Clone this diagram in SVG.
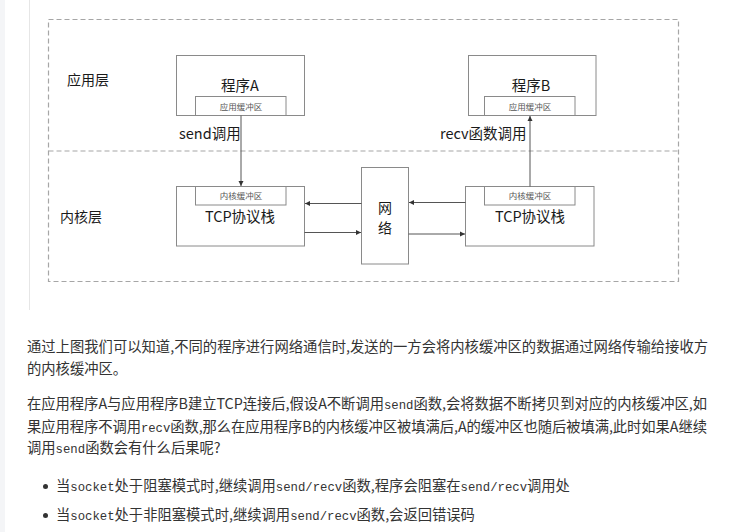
<svg xmlns="http://www.w3.org/2000/svg" width="736" height="532" viewBox="0 0 736 532">
<defs>
<marker id="ah" markerWidth="6" markerHeight="6" refX="5" refY="3" orient="auto" markerUnits="userSpaceOnUse">
<path d="M0,0.5 L5,3 L0,5.5 Z" fill="#333"/>
</marker>
<style>
.box{fill:#fff;stroke:#8a8a8a;stroke-width:1}
.dash{fill:none;stroke:#a6a6a6;stroke-width:1.2;stroke-dasharray:5,3}
.conn{stroke:#555;stroke-width:1;fill:none;marker-end:url(#ah)}
.lbl{font-family:"Noto Sans CJK SC","Liberation Sans",sans-serif;fill:#1a1a1a}
.big{font-size:14.5px;text-anchor:middle}
.layer{font-size:14px}
.small{font-size:8.5px;fill:#555;text-anchor:middle}
.body{font-family:"Noto Sans CJK SC","Liberation Sans",sans-serif;font-size:14.3px;fill:#333}
.mono{font-family:"Liberation Mono","DejaVu Sans Mono",monospace;font-size:12.3px}
</style>
</defs>
<rect x="0" y="0" width="736" height="532" fill="#fff"/>
<rect x="0" y="0" width="5" height="532" fill="#f4f5f7"/>
<line x1="29.5" y1="0" x2="29.5" y2="310" stroke="#e6e6e6" stroke-width="1"/>

<g id="layers">
<rect class="dash" x="48.5" y="19.5" width="630" height="262"/>
<line class="dash" x1="48.5" y1="151" x2="678.5" y2="151"/>
<text class="lbl layer" x="67" y="85">应用层</text>
<text class="lbl layer" x="60" y="222">内核层</text>
</g>

<g id="progA">
<rect class="box" x="176.5" y="55.5" width="128" height="60"/>
<text class="lbl big" x="240" y="90.5">程序A</text>
<rect class="box" x="195.5" y="96.5" width="90.5" height="19"/>
<text class="lbl small" x="241" y="109.5">应用缓冲区</text>
</g>

<g id="progB">
<rect class="box" x="468.5" y="55.5" width="127.5" height="60"/>
<text class="lbl big" x="531" y="90.5">程序B</text>
<rect class="box" x="484.5" y="96.5" width="90.5" height="19"/>
<text class="lbl small" x="530" y="109.5">应用缓冲区</text>
</g>

<g id="tcpA">
<rect class="box" x="176.5" y="186.5" width="128" height="59.5"/>
<rect class="box" x="195.5" y="186.5" width="90.5" height="18.5"/>
<text class="lbl small" x="241" y="199">内核缓冲区</text>
<text class="lbl big" x="240" y="222">TCP协议栈</text>
</g>

<g id="tcpB">
<rect class="box" x="465.5" y="186.5" width="128.5" height="59.5"/>
<rect class="box" x="484.5" y="186.5" width="90.5" height="18.5"/>
<text class="lbl small" x="530" y="199">内核缓冲区</text>
<text class="lbl big" x="530" y="222">TCP协议栈</text>
</g>

<g id="net">
<rect class="box" x="361.5" y="167.5" width="47" height="96.5"/>
<text class="lbl" x="385" y="213" style="font-size:14px;text-anchor:middle">网</text>
<text class="lbl" x="385" y="232.5" style="font-size:14px;text-anchor:middle">络</text>
</g>

<g id="connectors">
<line class="conn" x1="241" y1="115.5" x2="241" y2="186"/>
<line class="conn" x1="530" y1="186.5" x2="530" y2="116"/>
<line class="conn" x1="361.5" y1="203.5" x2="305" y2="203.5"/>
<line class="conn" x1="304.5" y1="232.5" x2="361" y2="232.5"/>
<line class="conn" x1="465.5" y1="202.5" x2="409" y2="202.5"/>
<line class="conn" x1="408.5" y1="234" x2="465" y2="234"/>
<text class="lbl layer" x="179" y="138.5" style="font-size:14.5px">send调用</text>
<text class="lbl layer" x="440" y="138.5" style="font-size:14.5px">recv函数调用</text>
</g>

<g id="article">
<text class="body" x="27" y="352" textLength="681" lengthAdjust="spacing">通过上图我们可以知道,不同的程序进行网络通信时,发送的一方会将内核缓冲区的数据通过网络传输给接收方</text>
<text class="body" x="27" y="374">的内核缓冲区。</text>
<text class="body" x="27" y="409" textLength="680" lengthAdjust="spacing">在应用程序A与应用程序B建立TCP连接后,假设A不断调用<tspan class="mono">send</tspan>函数,会将数据不断拷贝到对应的内核缓冲区,如</text>
<text class="body" x="27" y="432" textLength="680" lengthAdjust="spacing">果应用程序不调用<tspan class="mono">recv</tspan>函数,那么在应用程序B的内核缓冲区被填满后,A的缓冲区也随后被填满,此时如果A继续</text>
<text class="body" x="27" y="453">调用<tspan class="mono">send</tspan>函数会有什么后果呢?</text>
<circle cx="45.5" cy="486.5" r="2.5" fill="#333"/>
<text class="body" x="56" y="491">当<tspan class="mono">socket</tspan>处于阻塞模式时,继续调用<tspan class="mono">send/recv</tspan>函数,程序会阻塞在<tspan class="mono">send/recv</tspan>调用处</text>
<circle cx="45.5" cy="515.5" r="2.5" fill="#333"/>
<text class="body" x="56" y="520">当<tspan class="mono">socket</tspan>处于非阻塞模式时,继续调用<tspan class="mono">send/recv</tspan>函数,会返回错误码</text>
</g>
</svg>
